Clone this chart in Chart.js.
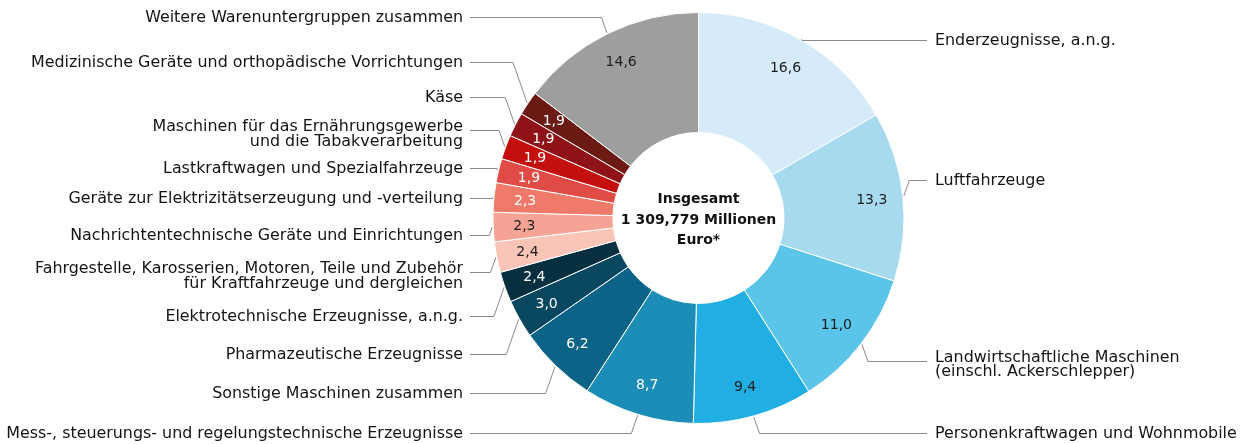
<!DOCTYPE html>
<html lang="de">
<head>
<meta charset="utf-8">
<title>Ausfuhr nach Warenuntergruppen</title>
<script src="https://cdn.jsdelivr.net/npm/chart.js@4.4.1/dist/chart.umd.min.js"></script>
<style>
  html, body { margin: 0; padding: 0; background: #fff; }
  #wrap { width: 1246px; height: 444px; }
</style>
</head>
<body>
<div id="wrap"><canvas id="chart" width="1246" height="444"></canvas></div>
<script>
// Slices, clockwise from 12 o'clock
const categories = [
    ['Enderzeugnisse, a.n.g.'],
    ['Luftfahrzeuge'],
    ['Landwirtschaftliche Maschinen', '(einschl. Ackerschlepper)'],
    ['Personenkraftwagen und Wohnmobile'],
    ['Mess-, steuerungs- und regelungstechnische Erzeugnisse'],
    ['Sonstige Maschinen zusammen'],
    ['Pharmazeutische Erzeugnisse'],
    ['Elektrotechnische Erzeugnisse, a.n.g.'],
    ['Fahrgestelle, Karosserien, Motoren, Teile und Zubehör', 'für Kraftfahrzeuge und dergleichen'],
    ['Nachrichtentechnische Geräte und Einrichtungen'],
    ['Geräte zur Elektrizitätserzeugung und -verteilung'],
    ['Lastkraftwagen und Spezialfahrzeuge'],
    ['Maschinen für das Ernährungsgewerbe', 'und die Tabakverarbeitung'],
    ['Käse'],
    ['Medizinische Geräte und orthopädische Vorrichtungen'],
    ['Weitere Warenuntergruppen zusammen']
];
const shares = [16.6, 13.3, 11.0, 9.4, 8.7, 6.2, 3.0, 2.4, 2.4, 2.3, 2.3, 1.9, 1.9, 1.9, 1.9, 14.6];
const valueLabels = shares.map(v => v.toFixed(1).replace('.', ','));
const centerText = ['Insgesamt', '1 309,779 Millionen', 'Euro*'];

const sliceColors = [
    '#d6ebfa', '#a7d9ef', '#5ac4e9', '#21aee2', '#1b8db7', '#0b6488', '#074760', '#062f40',
    '#fac5b6', '#f5a394', '#ef7a6a', '#e04b45', '#c30f0e', '#8f1218', '#6b1a14', '#9e9e9e'
];
const valueTextColors = [
    '#1e1e1e', '#1e1e1e', '#1e1e1e', '#1e1e1e', '#ffffff', '#ffffff', '#ffffff', '#ffffff',
    '#1e1e1e', '#1e1e1e', '#ffffff', '#ffffff', '#ffffff', '#ffffff', '#ffffff', '#1e1e1e'
];

// where each leader line meets its label (layout only)
const labelLineY = [40, 180, 361, 433, 433, 393, 354, 316, 272, 235, 198, 168, 130, 97, 62, 17];
const leftTextX = 463;
const rightTextX = 935;

const labelFont = '15.9px "DejaVu Sans", sans-serif';
const valueFont = '14px "DejaVu Sans", sans-serif';
const centerFont = 'bold 14px "DejaVu Sans", sans-serif';

const outsideLabels = {
    id: 'outsideLabels',
    afterDatasetsDraw(chart) {
        const ctx = chart.ctx;
        const arcs = chart.getDatasetMeta(0).data;
        ctx.save();

        arcs.forEach((arc, i) => {
            const p = arc.getProps(['x', 'y', 'startAngle', 'endAngle', 'innerRadius', 'outerRadius']);
            const mid = (p.startAngle + p.endAngle) / 2;

            // value inside the ring
            const rv = p.innerRadius + 0.74 * (p.outerRadius - p.innerRadius);
            ctx.font = valueFont;
            ctx.fillStyle = valueTextColors[i];
            ctx.textAlign = 'center';
            ctx.textBaseline = 'middle';
            ctx.fillText(valueLabels[i], p.x + Math.cos(mid) * rv, p.y + Math.sin(mid) * rv + 1);

            // leader line: slice edge -> elbow -> label
            const right = Math.cos(mid) >= 0;
            const ax = p.x + Math.cos(mid) * (p.outerRadius + 1);
            const ay = p.y + Math.sin(mid) * (p.outerRadius + 1);
            const ly = labelLineY[i] + 0.5;
            const ex = ax + (right ? 1 : -1) * 0.35 * Math.abs(ay - ly);
            const endX = right ? rightTextX - 8 : leftTextX + 7;
            ctx.strokeStyle = '#8a8a8a';
            ctx.lineWidth = 1;
            ctx.beginPath();
            ctx.moveTo(ax, ay);
            ctx.lineTo(ex, ly);
            ctx.lineTo(endX, ly);
            ctx.stroke();

            // label text
            const lines = categories[i];
            ctx.font = labelFont;
            ctx.fillStyle = '#141414';
            ctx.textAlign = right ? 'left' : 'right';
            ctx.textBaseline = 'alphabetic';
            const x = right ? rightTextX : leftTextX;
            if (lines.length === 1) {
                ctx.fillText(lines[0], x, labelLineY[i] + 5);
            } else {
                const gap = right ? 13.5 : 15;
                ctx.fillText(lines[0], x, labelLineY[i] + 1);
                ctx.fillText(lines[1], x, labelLineY[i] + 1 + gap);
            }
        });

        // total in the hole
        const c = arcs[0];
        ctx.font = centerFont;
        ctx.fillStyle = '#111';
        ctx.textAlign = 'center';
        ctx.textBaseline = 'alphabetic';
        centerText.forEach((t, k) => {
            ctx.fillText(t, c.x, c.y - 15 + k * 20.7);
        });

        ctx.restore();
    }
};

new Chart(document.getElementById('chart'), {
    type: 'doughnut',
    data: {
        labels: categories.map(l => l.join(' ')),
        datasets: [{
            data: shares,
            backgroundColor: sliceColors,
            borderColor: '#ffffff',
            borderWidth: 1,
            hoverOffset: 0,
            offset: 0
        }]
    },
    options: {
        responsive: false,
        animation: false,
        events: [],
        cutout: '41.6%',
        layout: {
            padding: { top: 12, bottom: 20, left: 492, right: 341 }
        },
        plugins: {
            legend: { display: false },
            tooltip: { enabled: false }
        }
    },
    plugins: [outsideLabels]
});
</script>
</body>
</html>
